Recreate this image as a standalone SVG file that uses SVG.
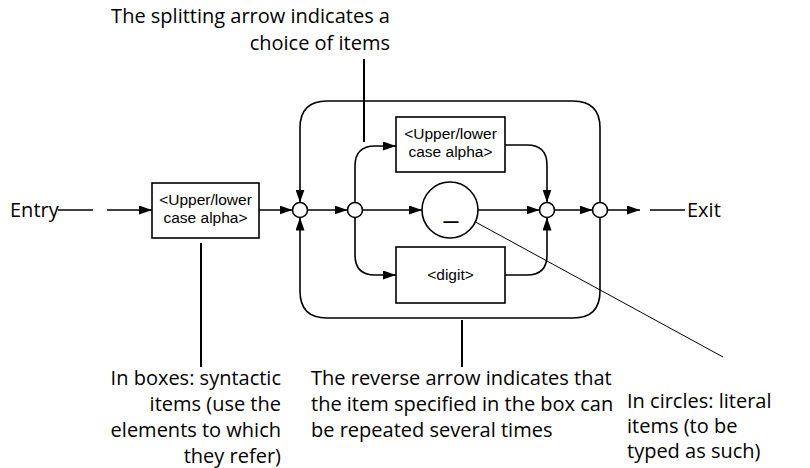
<svg xmlns="http://www.w3.org/2000/svg" width="810" height="468" viewBox="0 0 810 468">
<style>
.ln{fill:none;stroke:#000;stroke-width:1.6}
.ptr{fill:none;stroke:#000;stroke-width:2}
.thin{fill:none;stroke:#000;stroke-width:1}
.box{fill:#fff;stroke:#000;stroke-width:1.6}
.jn{fill:#fff;stroke:#000;stroke-width:1.6}
.bt{font-family:"Liberation Sans",Arial,sans-serif;font-size:15.5px;fill:#000;text-anchor:middle}
.us{font-family:"Liberation Sans",Arial,sans-serif;font-size:26px;fill:#000;text-anchor:middle}
.ann{font-family:"Open Sans","Noto Sans",sans-serif;font-size:20px;fill:#000}
.big{font-family:"Open Sans","Noto Sans",sans-serif;font-size:20px;fill:#000}
</style>
<defs>
<marker id="ah" markerWidth="13" markerHeight="9" refX="13" refY="4.5" orient="auto" markerUnits="userSpaceOnUse">
<path d="M0,0 L13,4.5 L0,9 z" fill="#000"/>
</marker>
</defs>
<g id="connectors">
<line class="ln" x1="58" y1="210" x2="93" y2="210"/>
<line class="ln" x1="107" y1="210" x2="152" y2="210" marker-end="url(#ah)"/>
<line class="ln" x1="259" y1="210" x2="292.5" y2="210" marker-end="url(#ah)"/>
<line class="ln" x1="307.5" y1="210" x2="347.5" y2="210" marker-end="url(#ah)"/>
<line class="ln" x1="362.5" y1="210" x2="422" y2="210" marker-end="url(#ah)"/>
<line class="ln" x1="478" y1="210" x2="539.5" y2="210" marker-end="url(#ah)"/>
<line class="ln" x1="554.5" y1="210" x2="592.5" y2="210" marker-end="url(#ah)"/>
<line class="ln" x1="607.5" y1="210" x2="640" y2="210" marker-end="url(#ah)"/>
<line class="ln" x1="650" y1="210" x2="685" y2="210"/>
<path class="ln" d="M600,202.5 V128 Q600,101 573,101 H327 Q300,101 300,128 V202.5" marker-end="url(#ah)"/>
<path class="ln" d="M600,217.5 V291 Q600,318 573,318 H327 Q300,318 300,291 V217.5" marker-end="url(#ah)"/>
<path class="ln" d="M355,202.5 V166 Q355,146 375,146 H396" marker-end="url(#ah)"/>
<path class="ln" d="M355,217.5 V255 Q355,275 375,275 H396" marker-end="url(#ah)"/>
<path class="ln" d="M505,145 H527 Q547,145 547,165 V202.5" marker-end="url(#ah)"/>
<path class="ln" d="M505,275 H527 Q547,275 547,255 V217.5" marker-end="url(#ah)"/>
<line class="ptr" x1="364" y1="59" x2="364" y2="142"/>
<line class="ptr" x1="201" y1="243" x2="201" y2="367"/>
<line class="ptr" x1="462" y1="320" x2="462" y2="367"/>
<line class="thin" x1="470" y1="219" x2="723" y2="357"/>
</g>
<g id="entry"><text class="big" x="10" y="217">Entry</text></g>
<g id="exit"><text class="big" x="687" y="217">Exit</text></g>
<g id="box-alpha">
<rect class="box" x="152" y="183" width="107" height="55"/>
<text class="bt" x="205.5" y="205">&lt;Upper/lower</text>
<text class="bt" x="205.5" y="223">case alpha&gt;</text>
</g>
<g id="box-alpha2">
<rect class="box" x="396" y="117" width="109" height="55"/>
<text class="bt" x="450.5" y="139">&lt;Upper/lower</text>
<text class="bt" x="450.5" y="157">case alpha&gt;</text>
</g>
<g id="box-digit">
<rect class="box" x="396" y="247" width="109" height="56"/>
<text class="bt" x="450.5" y="280">&lt;digit&gt;</text>
</g>
<g id="literal">
<circle class="jn" cx="450" cy="210" r="28"/>
<text class="us" x="451" y="218">_</text>
</g>
<g id="j1"><circle class="jn" cx="300" cy="210" r="7.5"/></g>
<g id="j2"><circle class="jn" cx="355" cy="210" r="7.5"/></g>
<g id="j3"><circle class="jn" cx="547" cy="210" r="7.5"/></g>
<g id="j4"><circle class="jn" cx="600" cy="210" r="7.5"/></g>
<g id="note-split">
<text class="ann" x="390" y="23" text-anchor="end">The splitting arrow indicates a</text>
<text class="ann" x="390" y="50" text-anchor="end">choice of items</text>
</g>
<g id="note-boxes">
<text class="ann" x="281" y="385" text-anchor="end">In boxes: syntactic</text>
<text class="ann" x="281" y="411" text-anchor="end">items (use the</text>
<text class="ann" x="281" y="437" text-anchor="end">elements to which</text>
<text class="ann" x="281" y="463" text-anchor="end">they refer)</text>
</g>
<g id="note-reverse">
<text class="ann" x="311" y="385">The reverse arrow indicates that</text>
<text class="ann" x="311" y="411">the item specified in the box can</text>
<text class="ann" x="311" y="437">be repeated several times</text>
</g>
<g id="note-circles">
<text class="ann" x="627" y="408">In circles: literal</text>
<text class="ann" x="627" y="433">items (to be</text>
<text class="ann" x="627" y="458">typed as such)</text>
</g>
</svg>
